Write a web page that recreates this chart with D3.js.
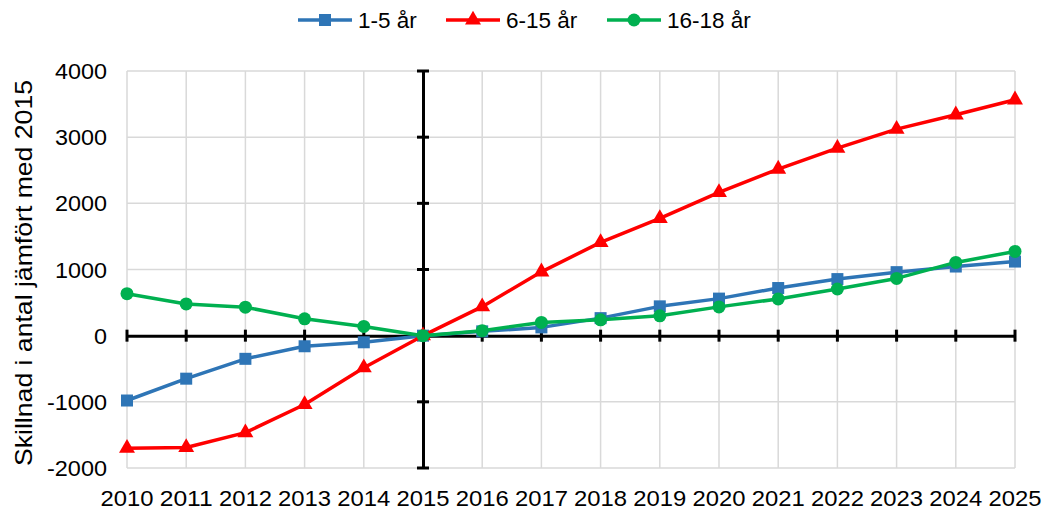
<!DOCTYPE html>
<html><head><meta charset="utf-8">
<script src="https://cdn.jsdelivr.net/npm/d3@7/dist/d3.min.js"></script>
<style>body{margin:0;background:#fff}svg{display:block}text{font-family:"Liberation Sans",Arial,sans-serif;fill:#000}</style>
</head><body><svg id="c" width="1050" height="512"></svg>
<script>
const years = [2010,2011,2012,2013,2014,2015,2016,2017,2018,2019,2020,2021,2022,2023,2024,2025];
const yTicks = [-2000,-1000,0,1000,2000,3000,4000];
const seriesNames = ["1-5 år","6-15 år","16-18 år"];
const seriesColors = ["#2E75B6","#FF0000","#00B050"];
const seriesMarkers = ["square","triangle","circle"];
const young = [-980,-650,-350,-160,-100,0,65,125,265,443,560,720,855,960,1045,1120];
const middle = [-1700,-1690,-1465,-1040,-485,0,438,965,1410,1772,2165,2518,2835,3122,3338,3565];
const older = [635,480,430,255,140,0,75,200,240,300,435,555,705,865,1107,1273];
const yLabel = "Skillnad i antal jämfört med 2015";

const svg = d3.select("#c");
const x = d3.scaleLinear().domain([2010,2025]).range([127,1015]);
const y = d3.scaleLinear().domain([-2000,4000]).range([468,71]);

// gridlines
const g = svg.append("g");
g.selectAll("line.v").data(years).join("line")
  .attr("x1",d=>x(d)).attr("x2",d=>x(d)).attr("y1",y(4000)).attr("y2",y(-2000))
  .attr("stroke","#d9d9d9").attr("stroke-width",1.5);
g.selectAll("line.h").data(yTicks).join("line")
  .attr("x1",x(2010)).attr("x2",x(2025)).attr("y1",d=>y(d)).attr("y2",d=>y(d))
  .attr("stroke","#d9d9d9").attr("stroke-width",1.5);

// x axis at y=0
const xAxis = d3.axisBottom(x).tickValues(years).tickSize(0).tickFormat("");
svg.append("g").attr("transform",`translate(0,${y(0)})`).call(xAxis)
  .call(a=>a.select(".domain").attr("stroke","#000").attr("stroke-width",3));
svg.append("g").selectAll("line").data(years).join("line")
  .attr("x1",d=>x(d)).attr("x2",d=>x(d)).attr("y1",y(0)-6).attr("y2",y(0)+6)
  .attr("stroke","#000").attr("stroke-width",3);
// y axis at 2015
const yAxis = d3.axisLeft(y).tickValues(yTicks).tickSize(0).tickFormat("");
svg.append("g").attr("transform",`translate(${x(2015)},0)`).call(yAxis)
  .call(a=>a.select(".domain").attr("stroke","#000").attr("stroke-width",3));
svg.append("g").selectAll("line").data(yTicks).join("line")
  .attr("x1",x(2015)-6).attr("x2",x(2015)+6).attr("y1",d=>y(d)).attr("y2",d=>y(d))
  .attr("stroke","#000").attr("stroke-width",3);

// tick labels
svg.append("g").selectAll("text").data(yTicks).join("text")
  .attr("x",107).attr("y",d=>y(d)+8).attr("text-anchor","end")
  .attr("textLength",d=>String(Math.abs(d)).length*13 + (d<0?8:0)).attr("lengthAdjust","spacingAndGlyphs")
  .style("font-size","22px").text(d=>d);
svg.append("g").selectAll("text").data(years).join("text")
  .attr("x",d=>x(d)).attr("y",506).attr("text-anchor","middle")
  .attr("textLength",53).attr("lengthAdjust","spacingAndGlyphs")
  .style("font-size","22px").text(d=>d);

// y label
svg.append("text").attr("transform","translate(32,273) rotate(-90)")
  .attr("text-anchor","middle").attr("textLength",386).attr("lengthAdjust","spacingAndGlyphs")
  .style("font-size","24px").text(yLabel);

// series
const data = [young, middle, older];
const line = d3.line().x((d,i)=>x(years[i])).y(d=>y(d));
function marker(sel, type, color){
  if(type==="square") sel.append("rect").attr("x",-6).attr("y",-6).attr("width",12).attr("height",12).attr("fill",color);
  else if(type==="circle") sel.append("circle").attr("r",6.5).attr("fill",color);
  else sel.append("path").attr("d",d3.symbol().type(d3.symbolTriangle).size(110)()).attr("fill",color);
}
data.forEach((vals,k)=>{
  svg.append("path").datum(vals).attr("d",line).attr("fill","none")
    .attr("stroke",seriesColors[k]).attr("stroke-width",3.5).attr("stroke-linejoin","round");
  vals.forEach((v,i)=>{
    const m = svg.append("g").attr("transform",`translate(${x(years[i])},${y(v)})`);
    marker(m, seriesMarkers[k], seriesColors[k]);
  });
});

// legend
const legX = [298,446,607];
seriesNames.forEach((n,k)=>{
  const lg = svg.append("g").attr("transform",`translate(${legX[k]},20)`);
  lg.append("line").attr("x1",0).attr("x2",54).attr("stroke",seriesColors[k]).attr("stroke-width",3.5);
  const m = lg.append("g").attr("transform","translate(27,0)");
  marker(m, seriesMarkers[k], seriesColors[k]);
  lg.append("text").attr("x",60).attr("y",8).style("font-size","22.5px").text(n);
});
</script></body></html>
